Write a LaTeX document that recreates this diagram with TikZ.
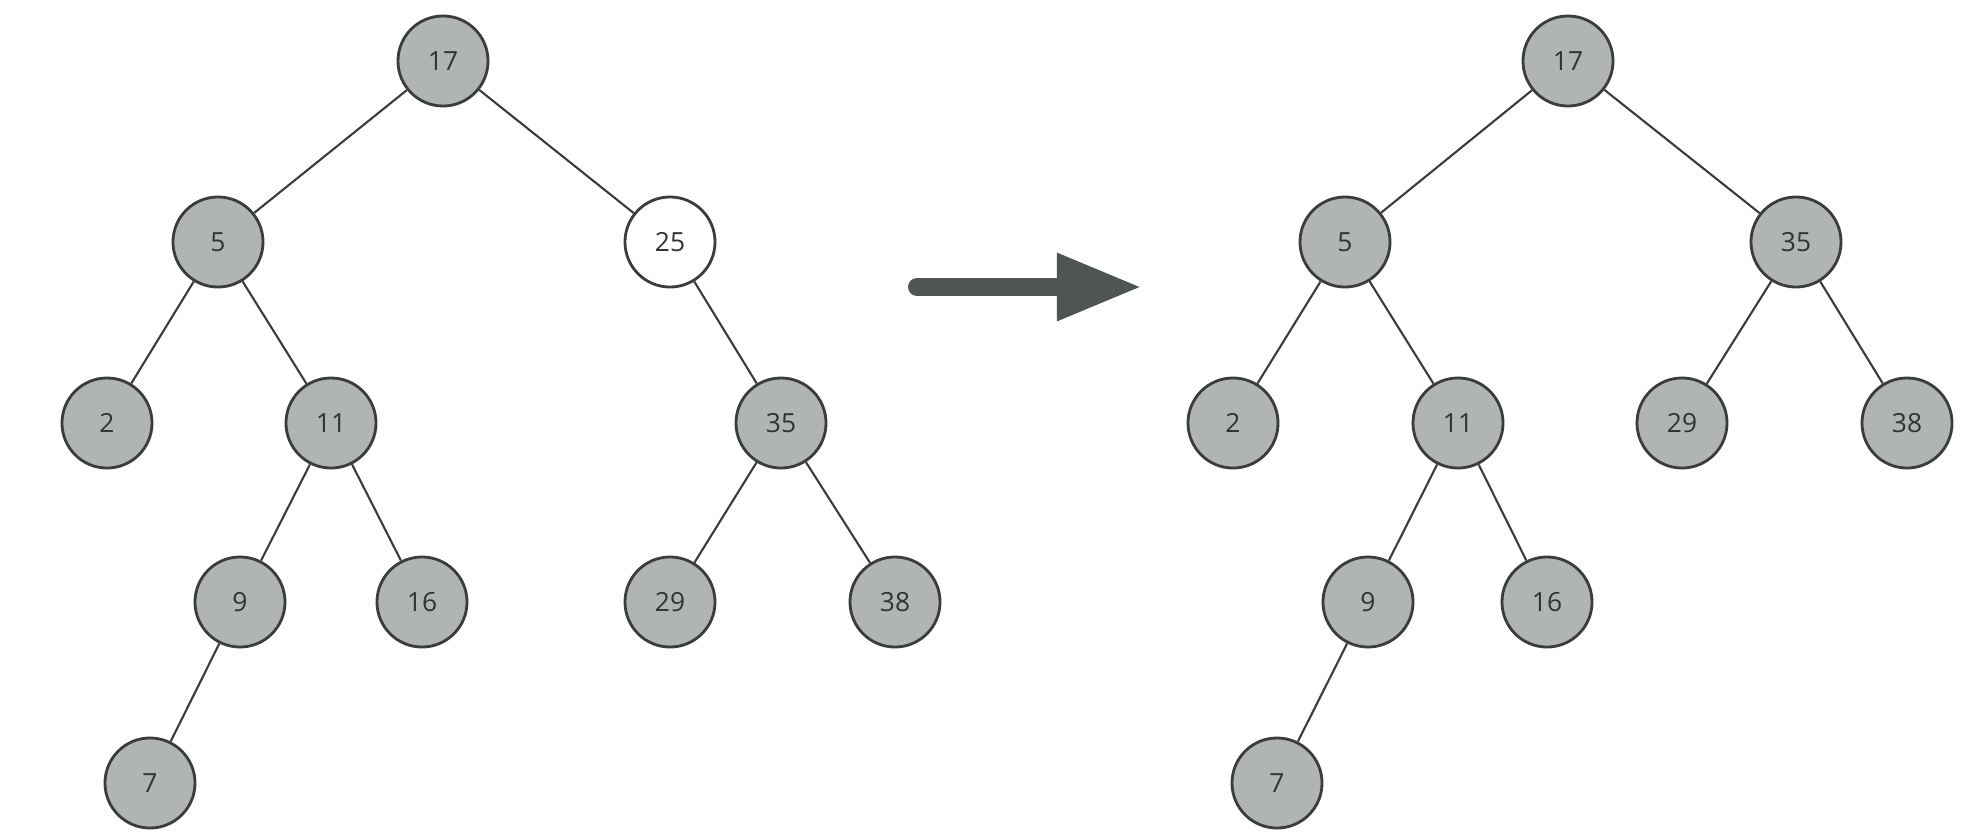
\documentclass[tikz,border=0pt]{standalone}
\usepackage{fontspec}
\setmainfont{Open Sans}
\usetikzlibrary{arrows.meta}

\definecolor{keyfill}{HTML}{B0B4B3}
\definecolor{keyline}{HTML}{3C3C3C}
\definecolor{arrowgray}{HTML}{4F5553}

\begin{document}
\begin{tikzpicture}[x = 0.01cm, y = -0.01cm,
	key/.style = {circle, draw = keyline, line width = 0.8pt, fill = keyfill, minimum size = 0.9cm, inner sep = 0pt, text = black!80, font = \fontsize{7.5}{9}\selectfont},
	hole/.style = {key, fill = white},
	edge/.style = {draw = keyline, line width = 0.6pt}]

	% Frame
	
	\useasboundingbox (0, 0) rectangle (1979, 836);
	
	% Left tree
	
	\node [key] (l17) at (443, 61) {17};
	\node [key] (l5) at (218, 242) {5};
	\node [hole] (l25) at (670, 242) {25};
	\node [key] (l2) at (107, 423) {2};
	\node [key] (l11) at (331, 423) {11};
	\node [key] (l35) at (781, 423) {35};
	\node [key] (l9) at (240, 602) {9};
	\node [key] (l16) at (422, 602) {16};
	\node [key] (l29) at (670, 602) {29};
	\node [key] (l38) at (895, 602) {38};
	\node [key] (l7) at (150, 783) {7};
	
	\foreach \a/\b in {l17/l5, l17/l25, l5/l2, l5/l11, l11/l9, l11/l16, l9/l7, l25/l35, l35/l29, l35/l38}
		\draw [edge] (\a) -- (\b);
	
	% Right tree
	
	\node [key] (r17) at (1568, 61) {17};
	\node [key] (r5) at (1345, 242) {5};
	\node [key] (r35) at (1796, 242) {35};
	\node [key] (r2) at (1233, 423) {2};
	\node [key] (r11) at (1458, 423) {11};
	\node [key] (r29) at (1682, 423) {29};
	\node [key] (r38) at (1907, 423) {38};
	\node [key] (r9) at (1368, 602) {9};
	\node [key] (r16) at (1547, 602) {16};
	\node [key] (r7) at (1277, 783) {7};
	
	\foreach \a/\b in {r17/r5, r17/r35, r5/r2, r5/r11, r11/r9, r11/r16, r9/r7, r35/r29, r35/r38}
		\draw [edge] (\a) -- (\b);
	
	% Big arrow
	
	\coordinate (from) at (917, 287);
	\coordinate (to) at (1142, 287);
	\draw [arrowgray, line width = 0.18cm, line cap = round, -{Triangle[length = 0.85cm, width = 0.63cm]}] (from) -- (to);

\end{tikzpicture}
\end{document}
